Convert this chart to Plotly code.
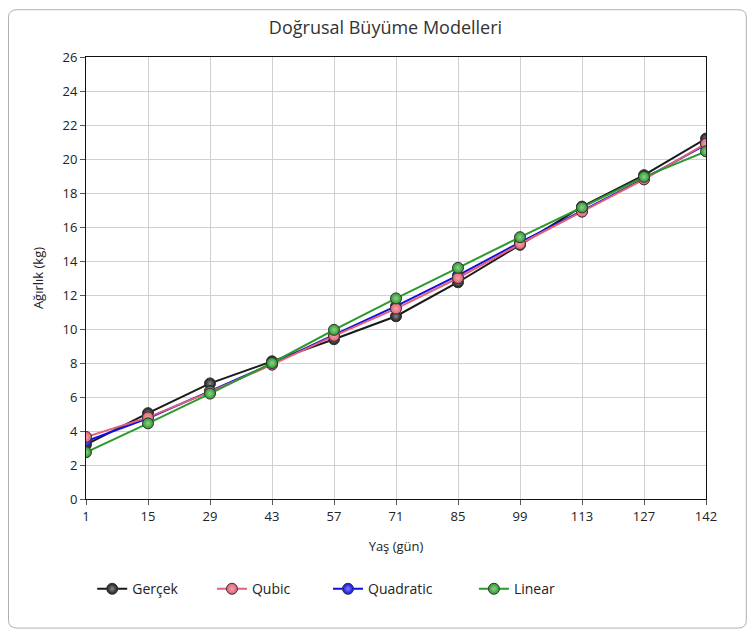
import plotly.graph_objects as go

days = ["1", "15", "29", "43", "57", "71", "85", "99", "113", "127", "142"]
gercek = [3.2, 5.05, 6.8, 8.1, 9.4, 10.75, 12.75, 14.95, 17.2, 19.05, 21.2]
qubic = [3.65, 4.8, 6.3, 7.9, 9.6, 11.2, 13.0, 15.0, 16.9, 18.8, 20.9]
quadratic = [3.4, 4.75, 6.35, 7.95, 9.65, 11.35, 13.15, 15.1, 16.95, 18.85, 20.85]
linear = [2.75, 4.45, 6.2, 8.0, 9.95, 11.8, 13.6, 15.4, 17.15, 18.95, 20.45]

NB = "\u00a0"
series = {
    "Gerçek": (gercek, "#1a1a1a", "#8a8a8a", 1, 8),
    "Qubic": (qubic, "#e0607a", "#f4a4a4", 2, 9),
    "Quadratic": (quadratic, "#1010e0", "#8080ff", 3, 10),
    "Linear": (linear, "#2a9a2a", "#90d090", 4, 2),
}
draw_order = ["Gerçek", "Quadratic", "Qubic", "Linear"]

fig = go.Figure()
for name in draw_order:
    vals, col, light, rank, pad = series[name]
    fig.add_trace(go.Scatter(
        x=days, y=vals, name=name + NB * pad, mode="lines+markers",
        legendrank=rank,
        line=dict(color=col, width=2),
        marker=dict(size=11, color=col, line=dict(color="#333333", width=1),
                    gradient=dict(type="radial", color=light)),
    ))

# figure is placed at (8,8) in the page; plot area: l=78, r=698, t=49, b=491 (figure px)
fig.update_layout(
    width=755, height=633,
    paper_bgcolor="white", plot_bgcolor="white",
    font=dict(family="Open Sans", size=13, color="#222222"),
    title=dict(text="Doğrusal Büyüme Modelleri", x=0.5, xanchor="center",
               y=0.969, yanchor="middle", font=dict(size=18, color="#333333")),
    margin=dict(l=78, r=57, t=49, b=142),
    legend=dict(orientation="h", x=0.01, xanchor="left", y=-0.204, yanchor="middle",
                font=dict(size=14), itemwidth=30),
    showlegend=True,
    shapes=[dict(type="path", xref="paper", yref="paper",
                 path="M -0.11 1.107 L 1.052 1.107 Q 1.065 1.107 1.065 1.09 L 1.065 -0.275 Q 1.065 -0.292 1.052 -0.292 L -0.11 -0.292 Q -0.125 -0.292 -0.125 -0.275 L -0.125 1.09 Q -0.125 1.107 -0.11 1.107 Z",
                 line=dict(color="#b0b0b0", width=1), layer="below")],
)
fig.update_xaxes(
    type="category", range=[0, 10], showgrid=True, gridcolor="#d0d0d0", gridwidth=1,
    showline=True, linecolor="#111111", linewidth=1, mirror=True,
    ticks="outside", ticklen=5, tickcolor="#555555",
    title=dict(text="Yaş (gün)", font=dict(size=13), standoff=18),
    tickfont=dict(size=13),
)
fig.update_yaxes(
    range=[0, 26], dtick=2, showgrid=True, gridcolor="#d0d0d0", gridwidth=1,
    showline=True, linecolor="#111111", linewidth=1, mirror=True,
    ticks="outside", ticklen=5, tickcolor="#555555",
    title=dict(text="Ağırlık (kg)", font=dict(size=13), standoff=15),
    tickfont=dict(size=13), zeroline=False,
)

fig.write_html("out.html")
